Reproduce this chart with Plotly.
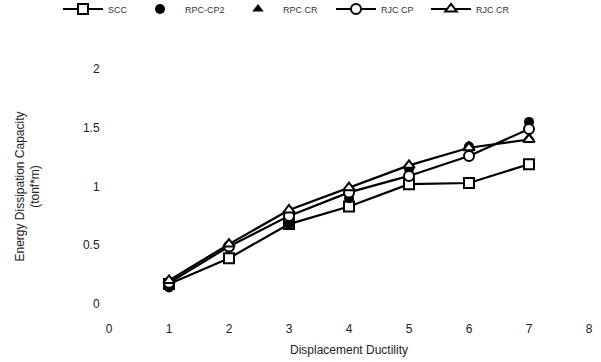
import plotly.graph_objects as go

x = [1, 2, 3, 4, 5, 6, 7]
scc = [0.17, 0.39, 0.68, 0.83, 1.02, 1.03, 1.19]
rpc_cp2 = [0.14, 0.48, 0.68, 0.90, 1.15, 1.34, 1.55]
rpc_cr = [0.20, 0.51, 0.80, 0.98, 1.18, 1.35, 1.42]
rjc_cp = [0.18, 0.49, 0.75, 0.95, 1.09, 1.26, 1.49]
rjc_cr = [0.20, 0.51, 0.80, 0.99, 1.18, 1.33, 1.40]
xticks = [0, 1, 2, 3, 4, 5, 6, 7, 8]
yticks = [0, 0.5, 1, 1.5, 2]
yticklabels = ["0", "0.5", "1", "1.5", "2"]

fig = go.Figure()
lw = 2.2
fig.add_trace(go.Scatter(x=x, y=scc, name="SCC", mode="lines+markers", legend="legend",
    line=dict(color="black", width=lw),
    marker=dict(symbol="square", size=10, color="white", line=dict(width=2, color="black"))))
fig.add_trace(go.Scatter(x=x, y=rpc_cp2, name="RPC-CP2", mode="markers", legend="legend2",
    marker=dict(symbol="circle", size=10, color="black")))
fig.add_trace(go.Scatter(x=x, y=rpc_cr, name="RPC CR", mode="markers", legend="legend3",
    marker=dict(symbol="triangle-up", size=10, color="black")))
fig.add_trace(go.Scatter(x=x, y=rjc_cp, name="RJC CP", mode="lines+markers", legend="legend4",
    line=dict(color="black", width=lw),
    marker=dict(symbol="circle", size=10, color="white", line=dict(width=2, color="black"))))
fig.add_trace(go.Scatter(x=x, y=rjc_cr, name="RJC CR", mode="lines+markers", legend="legend5",
    line=dict(color="black", width=lw),
    marker=dict(symbol="triangle-up", size=10, color="white", line=dict(width=2, color="black"))))

W, H = 601, 362
L, R, T, B = 109, 12, 69, 58
pw, ph = W - L - R, H - T - B
leg_starts = [58, 135, 233, 331, 426]
legend_y = 1 + (T - 9) / ph


def leg(px):
    return dict(orientation="h", x=(px - L) / pw, xanchor="left", y=legend_y,
                yanchor="middle", font=dict(size=9, color="#333"), itemwidth=40,
                bgcolor="rgba(0,0,0,0)", borderwidth=0)


fig.update_layout(
    width=W, height=H,
    margin=dict(l=L, r=R, t=T, b=B, autoexpand=False),
    plot_bgcolor="white", paper_bgcolor="white",
    font=dict(family="Liberation Sans, Arial", color="#222", size=12),
    showlegend=True,
    legend=leg(leg_starts[0]),
    legend2=leg(leg_starts[1]),
    legend3=leg(leg_starts[2]),
    legend4=leg(leg_starts[3]),
    legend5=leg(leg_starts[4]),
    xaxis=dict(range=[0, 8], tickvals=xticks, showgrid=False, zeroline=False, showline=False,
               ticks="outside", ticklen=14, tickcolor="white", automargin=False,
               title=dict(text="Displacement Ductility", standoff=10, font=dict(size=12))),
    yaxis=dict(range=[0, 2], tickvals=yticks, ticktext=yticklabels, showgrid=False,
               zeroline=False, showline=False, automargin=False,
               ticks="outside", ticklen=6, tickcolor="white",
               title=dict(text="Energy Dissipation Capacity<br>(tonf*m)", standoff=40,
                          font=dict(size=12))),
)
fig.write_html("out.html", config={"displayModeBar": False},
               post_script="document.body.style.margin='0';")
